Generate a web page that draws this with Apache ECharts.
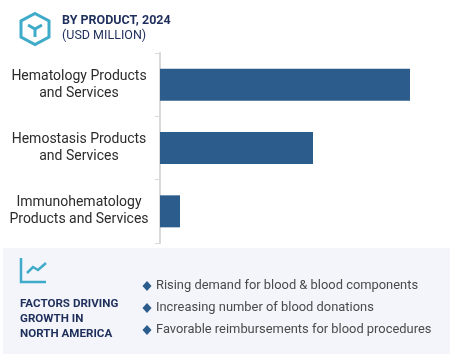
<!DOCTYPE html>
<html>
<head>
<meta charset="utf-8">
<style>
  html, body { margin: 0; padding: 0; background: #fff; }
  #chart { width: 450px; height: 355px; }
</style>
<script src="https://cdn.jsdelivr.net/npm/echarts@6/dist/echarts.min.js"></script>
</head>
<body>
<div id="chart"></div>
<script>
const categories = ['Hematology Products\nand Services', 'Hemostasis Products\nand Services', 'Immunohematology\nProducts and Services']
const marketValues = [250, 153, 20]
const titleLines = ['BY PRODUCT, 2024', '(USD MILLION)']
const factorTitle = ['FACTORS DRIVING', 'GROWTH IN', 'NORTH AMERICA']
const factors = [
  'Rising demand for blood & blood components',
  'Increasing number of blood donations',
  'Favorable reimbursements for blood procedures'
]

const FONT = 'Roboto'
const NAVY = '#1f2f5c'
const TEAL = '#3fabc9'
const BLUE = '#2c5c8c'

const myChart = echarts.init(document.getElementById('chart'))

const graphics = [
  // panel at the bottom
  { type: 'rect', z: 0, shape: { x: 3, y: 248, width: 447, height: 106 }, style: { fill: '#f3f5fa' } },
  // box icon
  { type: 'polygon', shape: { points: [[35, 13.5], [49, 21], [49, 37], [35, 44.5], [21, 37], [21, 21]] },
    style: { fill: 'none', stroke: TEAL, lineWidth: 3 } },
  { type: 'polyline', shape: { points: [[28, 25], [35, 29], [42, 25]] },
    style: { fill: 'none', stroke: TEAL, lineWidth: 3 } },
  { type: 'line', shape: { x1: 35, y1: 29, x2: 35, y2: 37 }, style: { stroke: TEAL, lineWidth: 3 } },
  // trend icon
  { type: 'polyline', shape: { points: [[21, 258], [21, 282], [46, 282]] },
    style: { fill: 'none', stroke: TEAL, lineWidth: 2.5 } },
  { type: 'polyline', shape: { points: [[27, 273], [33, 267], [38, 270], [46, 263]] },
    style: { fill: 'none', stroke: TEAL, lineWidth: 2.5 } }
]

titleLines.forEach((t, i) => {
  graphics.push({
    type: 'text', x: 62, y: 21 + i * 14.5,
    style: { text: t, font: (i === 0 ? 'bold ' : '') + '12.5px ' + FONT, fill: NAVY, verticalAlign: 'middle' }
  })
})

factorTitle.forEach((t, i) => {
  graphics.push({
    type: 'text', x: 20, y: 304 + i * 15,
    style: { text: t, font: 'bold 11.6px ' + FONT, fill: NAVY, verticalAlign: 'middle' }
  })
})

factors.forEach((t, i) => {
  const cy = 286 + i * 22
  graphics.push({
    type: 'polygon',
    shape: { points: [[142.5, cy], [147, cy - 5], [151.5, cy], [147, cy + 5]] },
    style: { fill: BLUE }
  })
  graphics.push({
    type: 'text', x: 156, y: cy,
    style: { text: t, font: '12.9px ' + FONT, fill: '#4a4a4a', verticalAlign: 'middle' }
  })
})

const option = {
  backgroundColor: '#fff',
  animation: false,
  grid: { left: 160, top: 53, width: 250, height: 190, containLabel: false },
  xAxis: { type: 'value', min: 0, max: 250, show: false },
  yAxis: {
    type: 'category',
    inverse: true,
    data: categories,
    axisLine: { lineStyle: { color: '#d9d9d9', width: 2 } },
    axisTick: { show: true, length: 5, lineStyle: { color: '#d9d9d9', width: 1 } },
    axisLabel: {
      fontFamily: FONT, fontSize: 14, color: '#2b2b2b', lineHeight: 17,
      align: 'center', margin: 81, padding: [4, 0, 0, 0]
    }
  },
  series: [
    {
      type: 'bar',
      data: marketValues,
      barWidth: 32,
      itemStyle: { color: BLUE }
    }
  ],
  graphic: graphics
}

myChart.setOption(option)
</script>
</body>
</html>
